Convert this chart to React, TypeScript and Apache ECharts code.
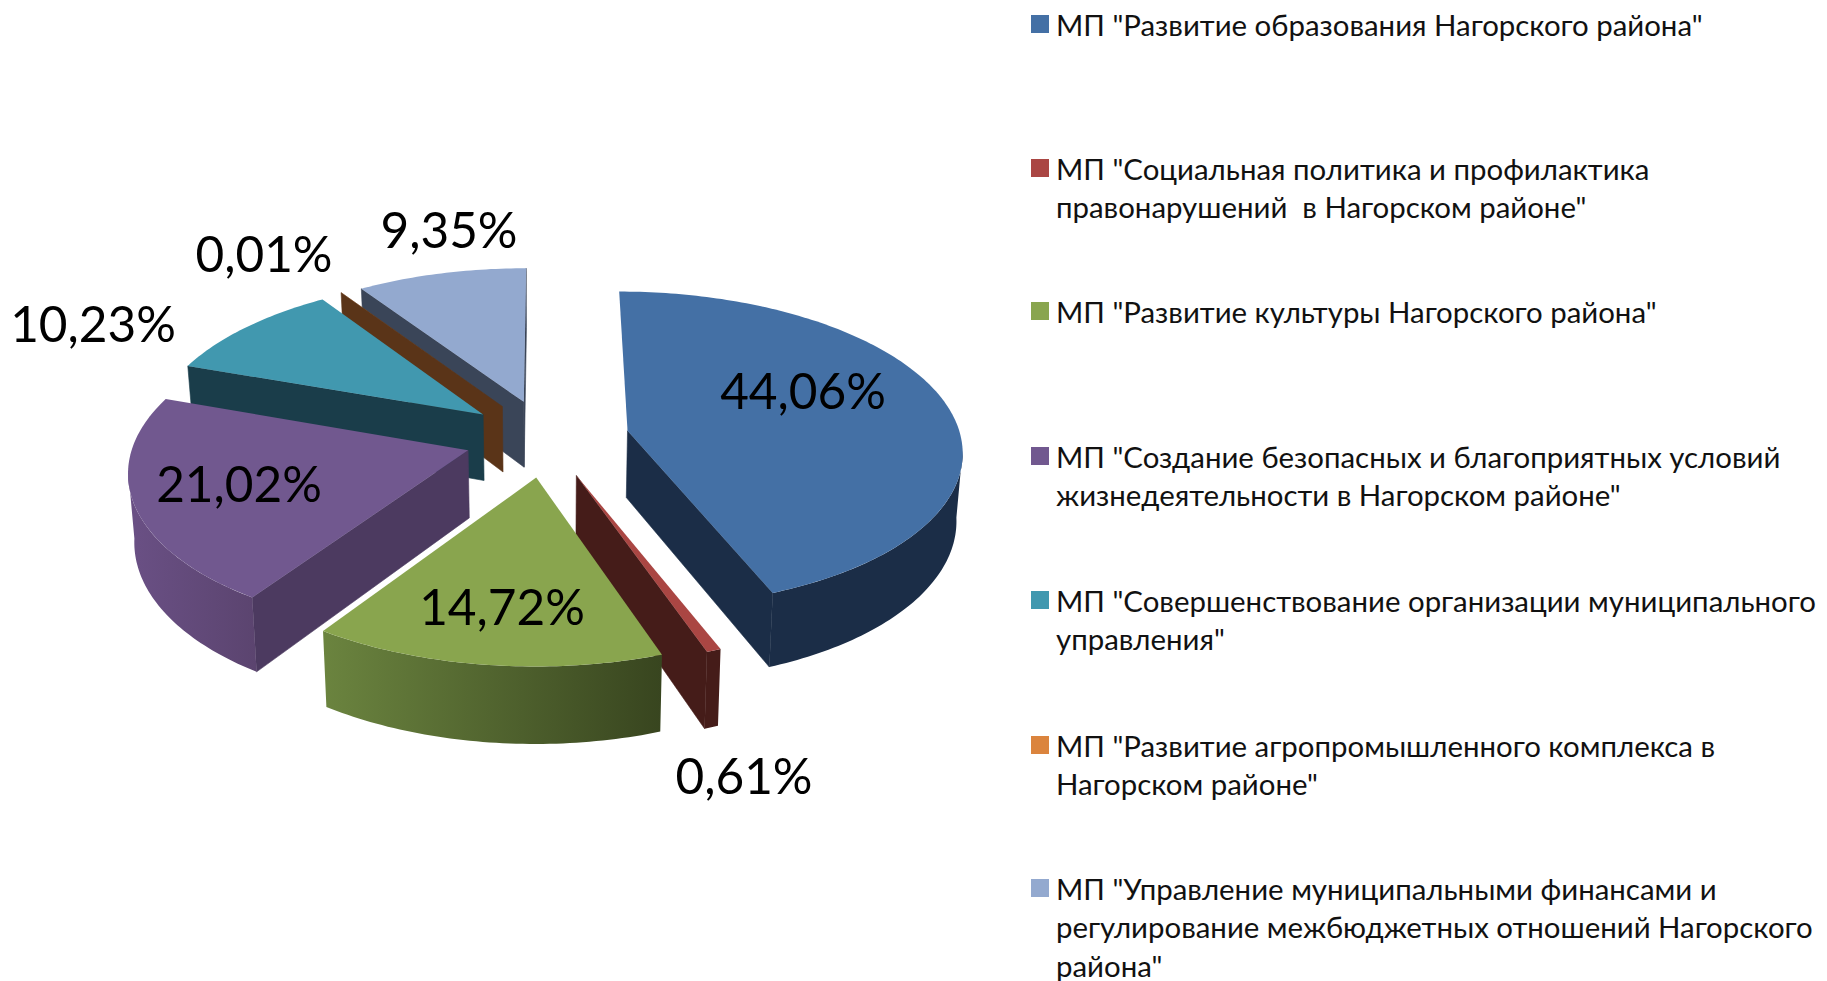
import React, { useEffect, useRef } from "react";
import * as echarts from "echarts";

const legendLines: string[][] = [
  ['МП "Развитие образования Нагорского района"'],
  ['МП "Социальная политика и профилактика', 'правонарушений  в Нагорском районе"'],
  ['МП "Развитие культуры Нагорского района"'],
  ['МП "Создание безопасных и благоприятных условий', 'жизнедеятельности в Нагорском районе"'],
  ['МП "Совершенствование организации муниципального', 'управления"'],
  ['МП "Развитие агропромышленного комплекса в', 'Нагорском районе"'],
  ['МП "Управление муниципальными финансами и', 'регулирование межбюджетных отношений Нагорского', 'района"'],
];
const names = legendLines.map((l) => l.join(" "));
const values = [44.06, 0.61, 14.72, 21.02, 10.23, 0.01, 9.35];
const topColors = ["#4470a5", "#aa4643", "#89a54e", "#71588f", "#4198af", "#db843d", "#93a9cf"];
const wallColors = ["#1b2d47", "#451c19", "#38451f", "#4c3a60", "#1a3d4a", "#5a3418", "#3a4558"];
const rimLeft = ["#1b2d47", "#451c19", "#6b843f", "#6a5085", "#1a3d4a", "#5a3418", "#3a4558"];
const rimRight = ["#1b2d47", "#451c19", "#38451f", "#5b446f", "#1a3d4a", "#5a3418", "#3a4558"];
const labelAnchors = [[803, 389.5], [744, 774.5], [502, 605.5], [239, 482.5], [93, 322.5], [264, 252.5], [449, 228.5]];
const legendFirstLineY = [24, 168, 311, 456, 600, 745, 888];
const paintOrder = [6, 5, 4, 3, 1, 2, 0];

const CX = 547, CY = 438, R = 333.5, T = 157, K = 0.116, EXPLODE = 0.247;
const DEPTH = 67, KD = 0.109, BOTTOM_X = 0.985;
const LINE_H = 38.5;
const FONT = "Lato, 'Noto Sans', sans-serif";
const RAD = Math.PI / 180;

const total = values.reduce((a, b) => a + b, 0);
const startAngles: number[] = [];
values.reduce((acc, v, i) => {
  startAngles[i] = (acc / total) * 360;
  return acc + v;
}, 0);

function project(X: number, Y: number, bottom: boolean): number[] {
  const w = 1 + K * Y;
  const x = (R * X) / w;
  const y = CY - (T * Y) / w + (bottom ? DEPTH / (1 + KD * Y) : 0);
  return [CX + x * (bottom ? BOTTOM_X : 1), y];
}

function arcPoints(ax: number, ay: number, a0: number, a1: number, bottom: boolean): number[][] {
  const steps = Math.max(1, Math.ceil(a1 - a0));
  const pts: number[][] = [];
  for (let s = 0; s <= steps; s++) {
    const a = (a0 + ((a1 - a0) * s) / steps) * RAD;
    pts.push(project(ax + Math.sin(a), ay + Math.cos(a), bottom));
  }
  return pts;
}

function makeRender(i: number) {
  return (_params: any, api: any) => {
    const sweep = (api.value(0) / total) * 360;
    const a0 = startAngles[i];
    const a1 = a0 + sweep;
    const mid = ((a0 + a1) / 2) * RAD;
    const ax = EXPLODE * Math.sin(mid);
    const ay = EXPLODE * Math.cos(mid);
    const apexT = project(ax, ay, false);
    const apexB = project(ax, ay, true);
    const children: any[] = [];
    const wall = (angle: number) => {
      const a = angle * RAD;
      const X = ax + Math.sin(a), Y = ay + Math.cos(a);
      children.push({
        type: "polygon",
        shape: { points: [apexT, project(X, Y, false), project(X, Y, true), apexB] },
        style: { fill: wallColors[i], stroke: wallColors[i], lineWidth: 0.6 },
      });
    };
    const dxOf = (angle: number) => project(ax + Math.sin(angle * RAD), ay + Math.cos(angle * RAD), false)[0] - apexT[0];
    if (dxOf(a0) < -20) wall(a0);
    if (dxOf(a1) > 0) wall(a1);
    const v0 = Math.max(a0, 97), v1 = Math.min(a1, 263);
    if (v1 > v0) {
      const top = arcPoints(ax, ay, v0, v1, false);
      const bot = arcPoints(ax, ay, v0, v1, true).reverse();
      children.push({
        type: "polygon",
        shape: { points: top.concat(bot) },
        style: {
          fill: new echarts.graphic.LinearGradient(0, 0, 1, 0, [
            { offset: 0, color: rimLeft[i] },
            { offset: 1, color: rimRight[i] },
          ]),
        },
      });
    }
    children.push({
      type: "polygon",
      shape: { points: [apexT, ...arcPoints(ax, ay, a0, a1, false)] },
      style: { fill: topColors[i] },
    });
    children.push({
      type: "text",
      x: labelAnchors[i][0],
      y: labelAnchors[i][1],
      style: {
        text: api.value(0).toFixed(2).replace(".", ",") + "%",
        fontFamily: FONT,
        fontSize: 49.5,
        fill: "#000",
        align: "center",
        verticalAlign: "middle",
      },
    });
    return { type: "group", children };
  };
}

export default function App() {
  const ref = useRef<HTMLDivElement>(null);
  useEffect(() => {
    const chart = echarts.init(ref.current!, undefined, { renderer: "svg" });
    chart.setOption({
      animation: false,
      backgroundColor: "#fff",
      legend: legendLines.map((lines, i) => ({
        data: [names[i]],
        left: 1031,
        top: legendFirstLineY[i] - ((2 * lines.length - 1) * LINE_H) / 2,
        padding: 0,
        icon: "rect",
        itemWidth: 18,
        itemHeight: 18,
        itemGap: 0,
        selectedMode: false,
        // blank lines above keep the first text line level with the square
        formatter: () => "\n".repeat(lines.length - 1) + lines.join("\n"),
        textStyle: {
          fontFamily: FONT,
          fontSize: 29.4,
          color: "#111",
          lineHeight: LINE_H,
          padding: [0, 0, 0, 2],
        },
      })),
      series: paintOrder.map((i) => ({
        type: "custom",
        name: names[i],
        coordinateSystem: "none",
        silent: true,
        itemStyle: { color: topColors[i] },
        data: [[values[i]]],
        renderItem: makeRender(i),
      })),
    });
    return () => chart.dispose();
  }, []);
  return <div ref={ref} style={{ position: "absolute", left: 0, top: 0, width: 1827, height: 981 }} />;
}
